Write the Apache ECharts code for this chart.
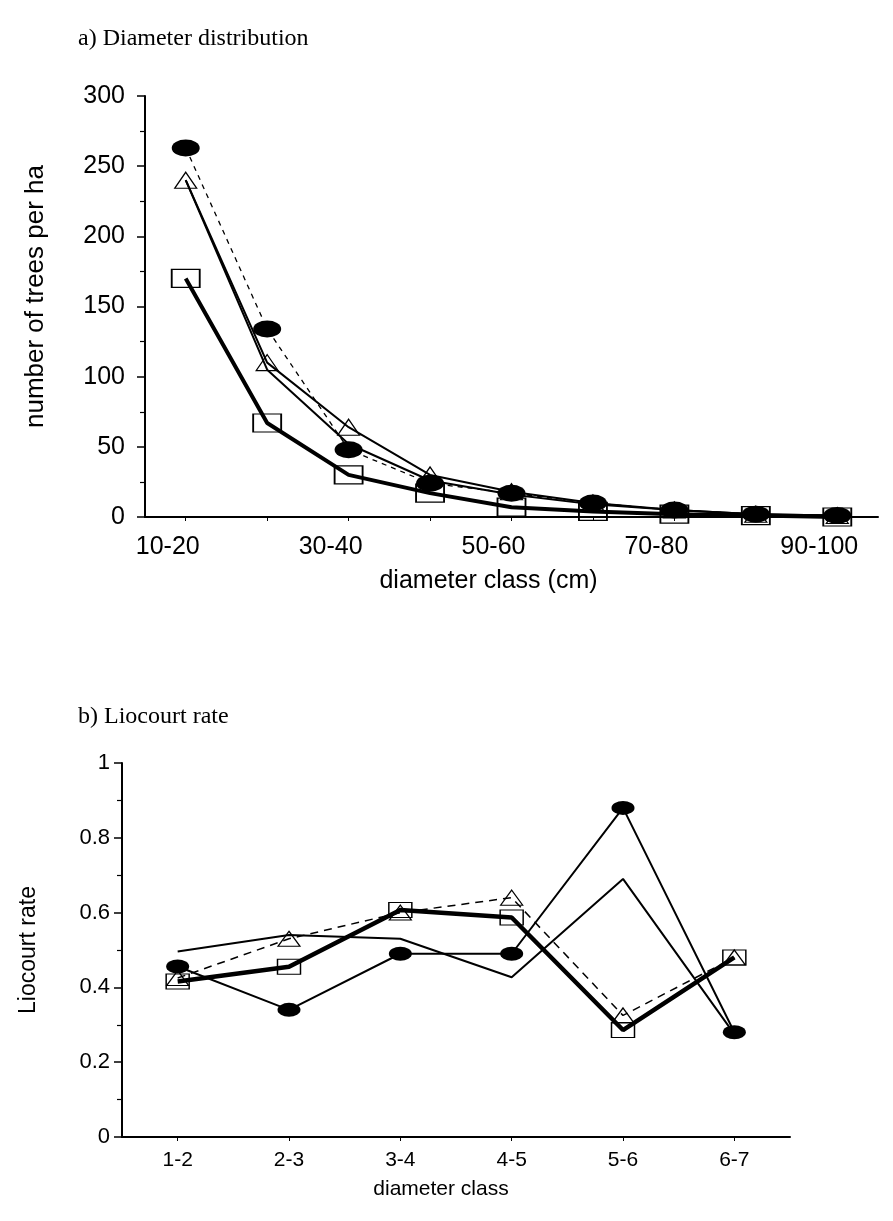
<!DOCTYPE html>
<html>
<head>
<meta charset="utf-8">
<script src="https://cdn.jsdelivr.net/npm/echarts@6/dist/echarts.min.js"></script>
<style>
html,body{margin:0;padding:0;background:#fff;}
#chart{width:893px;height:1221px;}
</style>
</head>
<body>
<div id="chart"></div>
<script>
// ---- Data: a) Diameter distribution ----
const catsA = ['10-20','20-30','30-40','40-50','50-60','60-70','70-80','80-90','90-100'];
const aCircles   = [263, 134, 48, 24, 17, 10, 5, 2, 1];
const aTriangles = [240, 110, 64, 30, 18, 10, 5, 2, 1];
const aThin      = [240, 105, 52, 26, 16, 9, 5, 2, 1];
const aSquares   = [170, 67, 30, 17, 7, 4, 2, 1, 0];

// ---- Data: b) Liocourt rate ----
const catsB = ['1-2','2-3','3-4','4-5','5-6','6-7'];
const bCircles   = [0.456, 0.34, 0.49, 0.49, 0.88, 0.28];
const bSquares   = [0.416, 0.455, 0.607, 0.587, 0.286, 0.48];
const bTriangles = [0.425, 0.53, 0.60, 0.64, 0.325, 0.48];
const bThin      = [0.496, 0.54, 0.53, 0.427, 0.69, 0.275];

const SANS = '"Liberation Sans", Arial, sans-serif';
const SERIF = '"Liberation Serif", "Times New Roman", serif';
const INK = '#000';

const chart = echarts.init(document.getElementById('chart'), null, {renderer: 'canvas'});

function yAxisBase(extra) {
  return Object.assign({
    type: 'value',
    min: 0,
    axisLine: {show: true, lineStyle: {color: INK, width: 2}},
    axisTick: {show: true, length: 8, lineStyle: {color: INK, width: 1.5}},
    minorTick: {show: true, splitNumber: 2, length: 5, lineStyle: {color: INK, width: 1.2}},
    splitLine: {show: false},
    nameLocation: 'middle',
    nameRotate: 90,
  }, extra);
}

const option = {
  backgroundColor: '#fff',
  animation: false,
  title: [
    {text: 'a) Diameter distribution', left: 73, top: 22,
     textStyle: {fontFamily: SERIF, fontSize: 24, fontWeight: 'normal', color: INK}},
    {text: 'b) Liocourt rate', left: 73, top: 700,
     textStyle: {fontFamily: SERIF, fontSize: 24, fontWeight: 'normal', color: INK}}
  ],
  grid: [
    {left: 145, right: 15, top: 96, bottom: 1221 - 517},
    {left: 122, right: 103, top: 763, bottom: 1221 - 1137}
  ],
  xAxis: [
    {
      gridIndex: 0, type: 'category', data: catsA, boundaryGap: true,
      axisLine: {lineStyle: {color: INK, width: 2}},
      axisTick: {show: true, alignWithLabel: true, interval: 0, length: 4, lineStyle: {color: INK, width: 1}},
      axisLabel: {interval: 1, margin: 18, fontFamily: SANS, fontSize: 25, color: INK, padding: [0, 36, 0, 0]},
      name: 'diameter class (cm)', nameLocation: 'middle', nameGap: 52,
      nameTextStyle: {fontFamily: SANS, fontSize: 25, color: INK, padding: [0, 46, 0, 0]}
    },
    {
      gridIndex: 1, type: 'category', data: catsB, boundaryGap: true,
      axisLine: {lineStyle: {color: INK, width: 2}},
      axisTick: {show: true, alignWithLabel: true, interval: 0, length: 4, lineStyle: {color: INK, width: 1}},
      axisLabel: {interval: 0, margin: 13, fontFamily: SANS, fontSize: 21, color: INK},
      name: 'diameter class', nameLocation: 'middle', nameGap: 42,
      nameTextStyle: {fontFamily: SANS, fontSize: 21, color: INK, padding: [0, 30, 0, 0]}
    }
  ],
  yAxis: [
    yAxisBase({
      gridIndex: 0, max: 300, interval: 50,
      axisLabel: {margin: 20, fontFamily: SANS, fontSize: 25, color: INK},
      name: 'number of trees per ha', nameGap: 96,
      nameTextStyle: {fontFamily: SANS, fontSize: 26, color: INK, padding: [0, 0, 0, 20]}
    }),
    yAxisBase({
      gridIndex: 1, max: 1, interval: 0.2,
      axisLabel: {margin: 12, fontFamily: SANS, fontSize: 22, color: INK},
      name: 'Liocourt rate', nameGap: 82,
      nameTextStyle: {fontFamily: SANS, fontSize: 23, color: INK}
    })
  ],
  series: [
    // ---- chart a ----
    {type: 'line', xAxisIndex: 0, yAxisIndex: 0, data: aSquares,
     symbol: 'rect', symbolSize: [28, 18], showSymbol: true,
     lineStyle: {color: INK, width: 4},
     itemStyle: {color: 'rgba(255,255,255,0)', borderColor: INK, borderWidth: 1.5}, z: 3},
    {type: 'line', xAxisIndex: 0, yAxisIndex: 0, data: aThin,
     symbol: 'none', lineStyle: {color: INK, width: 2}, z: 2},
    {type: 'line', xAxisIndex: 0, yAxisIndex: 0, data: aTriangles,
     symbol: 'triangle', symbolSize: [22, 16],
     lineStyle: {color: INK, width: 2},
     itemStyle: {color: 'rgba(255,255,255,0)', borderColor: INK, borderWidth: 1.2}, z: 2},
    {type: 'line', xAxisIndex: 0, yAxisIndex: 0, data: aCircles,
     symbol: 'circle', symbolSize: [28, 17],
     lineStyle: {color: INK, width: 1.3, type: [5, 5]},
     itemStyle: {color: INK, borderColor: INK, borderWidth: 0}, z: 4},
    // ---- chart b ----
    {type: 'line', xAxisIndex: 1, yAxisIndex: 1, data: bThin,
     symbol: 'none', lineStyle: {color: INK, width: 2}, z: 2},
    {type: 'line', xAxisIndex: 1, yAxisIndex: 1, data: bTriangles,
     symbol: 'triangle', symbolSize: [22, 15],
     lineStyle: {color: INK, width: 1.5, type: [8, 6]},
     itemStyle: {color: 'rgba(255,255,255,0)', borderColor: INK, borderWidth: 1.2}, z: 2},
    {type: 'line', xAxisIndex: 1, yAxisIndex: 1, data: bSquares,
     symbol: 'rect', symbolSize: [23, 15],
     lineStyle: {color: INK, width: 4.5},
     itemStyle: {color: 'rgba(255,255,255,0)', borderColor: INK, borderWidth: 1.2}, z: 3},
    {type: 'line', xAxisIndex: 1, yAxisIndex: 1, data: bCircles,
     symbol: 'circle', symbolSize: [23, 14],
     lineStyle: {color: INK, width: 2},
     itemStyle: {color: INK, borderColor: INK, borderWidth: 0}, z: 4}
  ]
};
chart.setOption(option);
</script>
</body>
</html>
